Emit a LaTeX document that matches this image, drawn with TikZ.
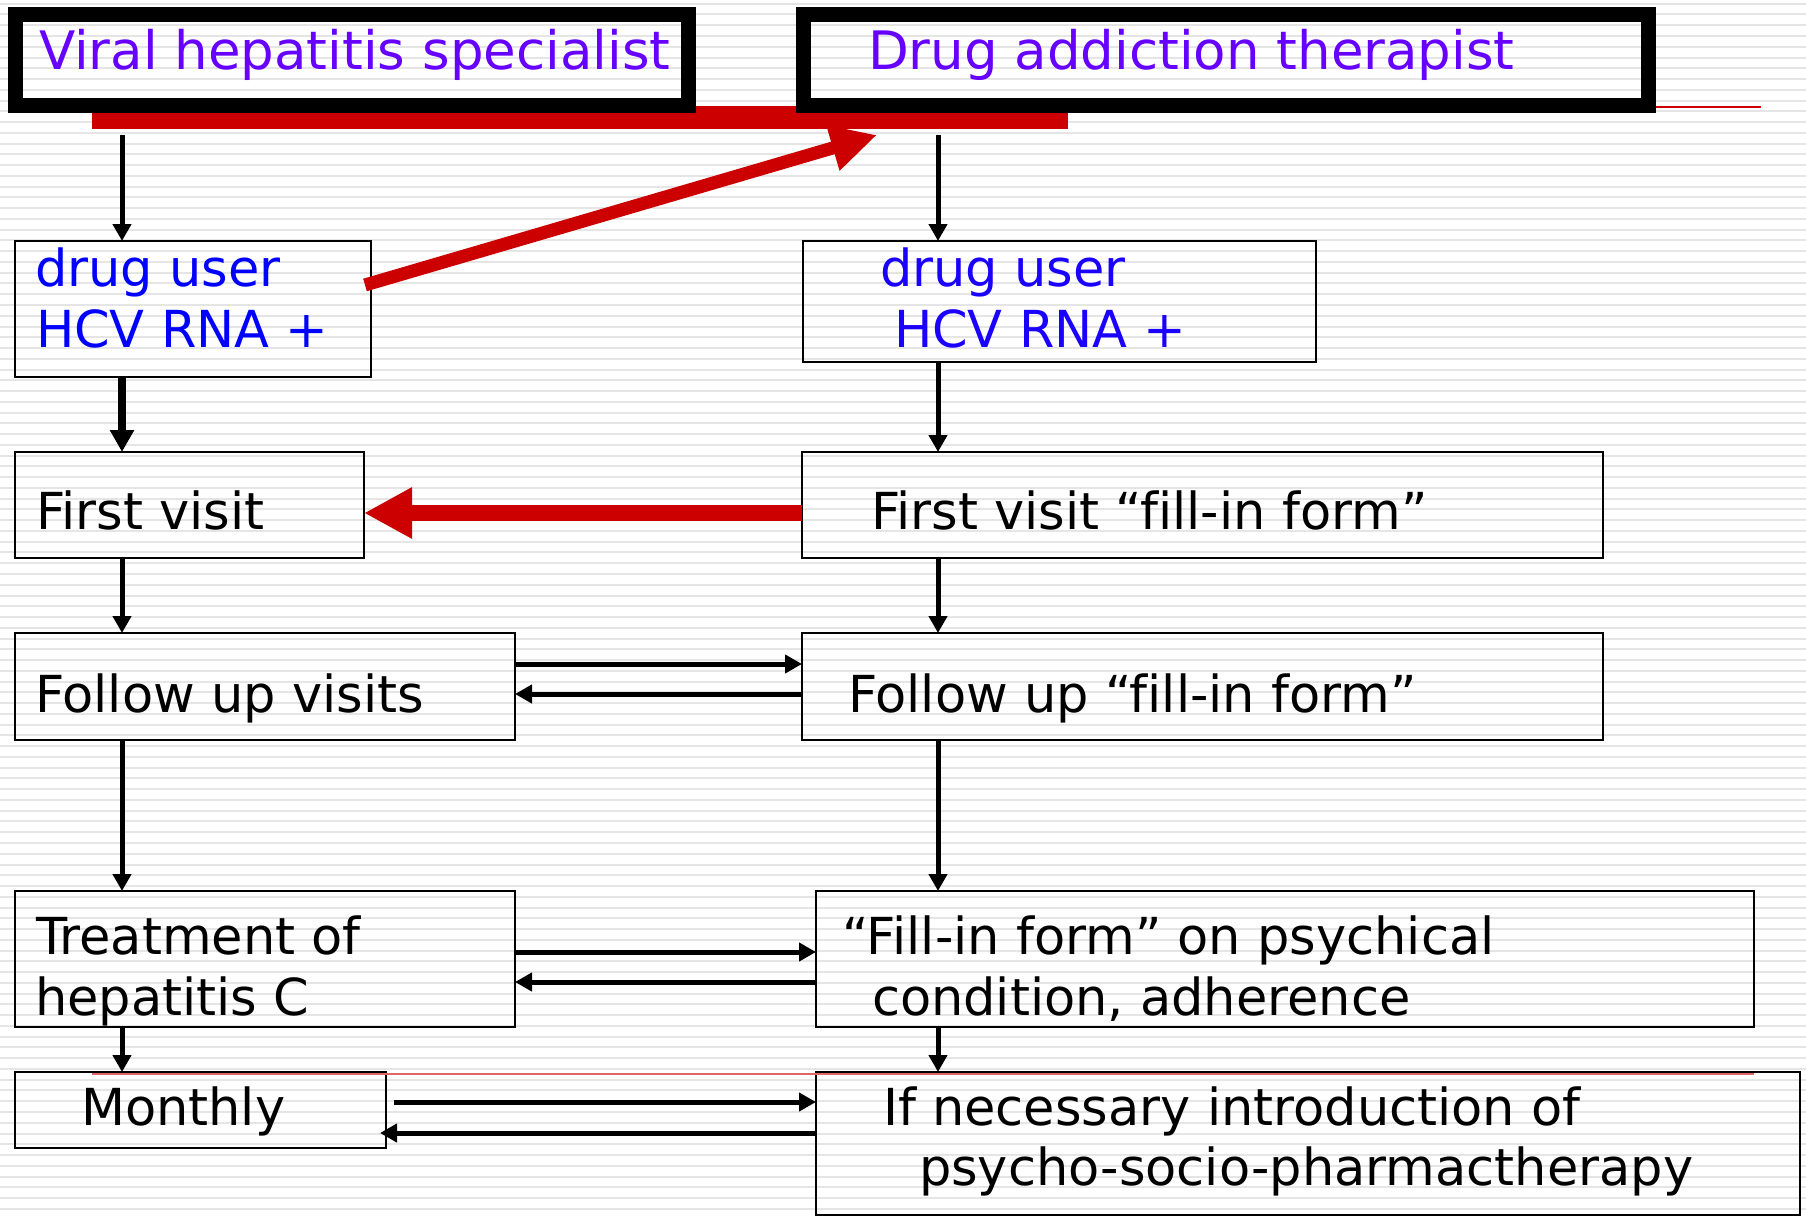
\documentclass[tikz,border=0pt]{standalone}
\usepackage{fontspec}
\setmainfont[Ligatures=NoCommon]{DejaVu Sans}
\usetikzlibrary{arrows.meta,calc}
\definecolor{ttlc}{HTML}{6600FF}
\definecolor{blu}{HTML}{0000FF}
\definecolor{blu2}{HTML}{1A00FF}
\definecolor{rd}{HTML}{CC0000}
\definecolor{stripec}{HTML}{E5E5E5}
\begin{document}
\begin{tikzpicture}[x=1pt,y=-1pt,
  box/.style={draw=black,line width=2.5pt,inner sep=0pt,outer sep=0pt,anchor=north west,rectangle},
  tbox/.style={draw=black,line width=15pt,inner sep=0pt,outer sep=0pt,anchor=north west,rectangle},
  txt/.style={anchor=base west,inner sep=0pt,outer sep=0pt,font=\fontsize{51pt}{61pt}\selectfont},
  ttl/.style={txt,text=ttlc,font=\fontsize{53pt}{61pt}\selectfont},
  arr/.style={draw=black,line width=5pt,-{Triangle[length=17pt,width=18pt]}},
  stripe/.style={draw=stripec,line width=2pt}]
\useasboundingbox (0,0) rectangle (1806,1218);
\fill[white] (0,0) rectangle (1806,1218);
\foreach \k in {0,...,113} {\draw[stripe] (0,{3.7+10.76*\k}) -- (1806,{3.7+10.76*\k});}
% thin red rules
\draw[rd,line width=2pt] (92,107) -- (1761,107);
% red bar
\node[fill=rd,inner sep=0pt,outer sep=0pt,anchor=north west,minimum width=976pt,minimum height=23pt] (bar) at (92,106) {};
% title boxes
\node[tbox,minimum width=673pt,minimum height=90.5pt] (spec) at (15,14.5) {};
\node[tbox,minimum width=845pt,minimum height=90.5pt] (ther) at (803,14.5) {};
% boxes
\node[box,minimum width=356pt,minimum height=136pt] (du1) at (15,241) {};
\node[box,minimum width=513pt,minimum height=121pt] (du2) at (803,241) {};
\node[box,minimum width=349pt,minimum height=106pt] (fv1) at (15,452) {};
\node[box,minimum width=801pt,minimum height=106pt] (fv2) at (802,452) {};
\node[box,minimum width=500pt,minimum height=107pt] (fu1) at (15,633) {};
\node[box,minimum width=801pt,minimum height=107pt] (fu2) at (802,633) {};
\node[box,minimum width=500pt,minimum height=136pt] (tr1) at (15,891) {};
\node[box,minimum width=938pt,minimum height=136pt] (tr2) at (816,891) {};
\node[box,minimum width=371pt,minimum height=76pt] (mo1) at (15,1072) {};
\node[box,minimum width=984pt,minimum height=143pt] (mo2) at (816,1072) {};
\draw[rd!60,line width=1.4pt] (92,1074) -- (1754,1074);
% column and row coordinates
\coordinate (cl) at (122,0);
\coordinate (cr) at (938,0);
\coordinate (a1) at (0,664);
\coordinate (a2) at (0,694);
\coordinate (b1) at (0,952);
\coordinate (b2) at (0,982);
\coordinate (c1) at (0,1102);
\coordinate (c2) at (0,1133);
\coordinate (rr) at (0,513);
\coordinate (dstart) at (365,285);
\coordinate (dtip) at (877,135);
% vertical arrows
\draw[arr,shorten <=6pt] (bar.south -| cl) -- (du1.north -| cl);
\draw[arr,shorten <=6pt] (bar.south -| cr) -- (du2.north -| cr);
\draw[arr,line width=7.5pt,-{Triangle[length=22pt,width=23pt]}] (du1.south -| cl) -- (fv1.north -| cl);
\draw[arr] (du2.south -| cr) -- (fv2.north -| cr);
\draw[arr] (fv1.south -| cl) -- (fu1.north -| cl);
\draw[arr] (fv2.south -| cr) -- (fu2.north -| cr);
\draw[arr] (fu1.south -| cl) -- (tr1.north -| cl);
\draw[arr] (fu2.south -| cr) -- (tr2.north -| cr);
\draw[arr] (tr1.south -| cl) -- (mo1.north -| cl);
\draw[arr] (tr2.south -| cr) -- (mo2.north -| cr);
% horizontal arrows
\draw[arr] (fu1.east |- a1) -- (fu2.west |- a1);
\draw[arr] (fu2.west |- a2) -- (fu1.east |- a2);
\draw[arr] (tr1.east |- b1) -- (tr2.west |- b1);
\draw[arr] (tr2.west |- b2) -- (tr1.east |- b2);
\draw[arr,shorten <=8pt] (mo1.east |- c1) -- (mo2.west |- c1);
\draw[arr,shorten >=-6pt] (mo2.west |- c2) -- (mo1.east |- c2);
% red arrows
\draw[rd,line width=16pt,-{Triangle[length=48pt,width=48pt]}] (fv2.west |- rr) -- (fv1.east |- rr);
\draw[rd,line width=13pt,-{Triangle[length=46pt,width=44pt]}] (dstart) -- (dtip);
% texts
\node[ttl] (t1) at (39,69) {Viral hepatitis specialist};
\node[ttl] (t2) at (868,69) {Drug addiction therapist};
\node[txt,text=blu] (d1a) at (35,286) {drug user};
\node[txt,text=blu] (d1b) at (36,347) {HCV RNA +};
\node[txt,text=blu2] (d2a) at (880,286) {drug user};
\node[txt,text=blu2] (d2b) at (894,347) {HCV RNA +};
\node[txt] (f1) at (36,529) {First visit};
\node[txt] (f2) at (871,529) {First visit “fill-in form”};
\node[txt] (u1) at (35,712) {Follow up visits};
\node[txt] (u2) at (848,712) {Follow up “fill-in form”};
\node[txt] (r1a) at (36,954) {Treatment of};
\node[txt] (r1b) at (35,1015) {hepatitis C};
\node[txt] (r2a) at (842,954) {“Fill-in form” on psychical};
\node[txt] (r2b) at (872,1015) {condition, adherence};
\node[txt] (m1) at (81,1125) {Monthly};
\node[txt] (m2a) at (883,1125) {If necessary introduction of};
\node[txt] (m2b) at (919,1185) {psycho-socio-pharmactherapy};
\end{tikzpicture}
\end{document}
